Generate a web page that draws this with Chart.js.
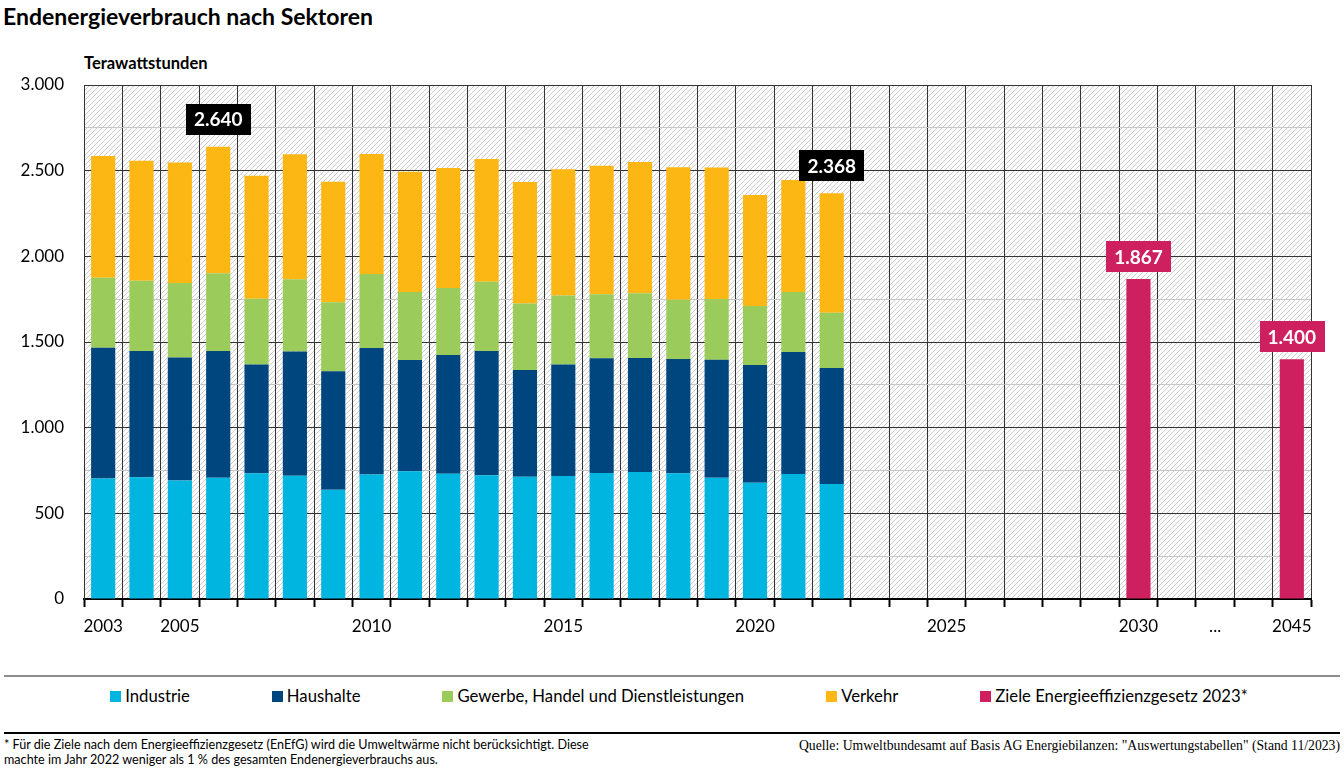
<!DOCTYPE html>
<html><head><meta charset="utf-8">
<script src="https://cdn.jsdelivr.net/npm/chart.js@4.4.1/dist/chart.umd.min.js"></script>
<style>
html,body{margin:0;padding:0;background:#fff;width:1344px;height:772px;overflow:hidden;font-family:Lato,sans-serif;color:#000;}
#title{position:absolute;left:3px;top:2px;font:bold 23px Lato;white-space:nowrap;}
#unit{position:absolute;left:84px;top:53px;font:bold 16.5px Lato;white-space:nowrap;}
#c{position:absolute;left:0;top:0;}
.sep1{position:absolute;left:4px;width:1336px;top:675px;height:2px;background:#8c8c8c;}
#legend{position:absolute;top:686px;left:14px;width:1330px;display:flex;justify-content:center;column-gap:82px;font:16.7px Lato;white-space:nowrap;}
.item{display:flex;align-items:center;}
.sw{width:11px;height:11px;margin-right:4px;display:inline-block;}
.sep2{position:absolute;left:4px;width:1336px;top:732px;height:2px;background:#000;}
#note{position:absolute;left:4px;top:737px;font:12.6px Lato;line-height:15px;white-space:nowrap;}
#src{position:absolute;right:4px;top:738px;font:13.7px "Liberation Serif";white-space:nowrap;}
</style>
</head><body>
<div id="title">Endenergieverbrauch nach Sektoren</div>
<div id="unit">Terawattstunden</div>
<canvas id="c" width="1344" height="660"></canvas>
<div class="sep1"></div>
<div id="legend"></div>
<div class="sep2"></div>
<div id="note">* Für die Ziele nach dem Energieeffizienzgesetz (EnEfG) wird die Umweltwärme nicht berücksichtigt. Diese<br>machte im Jahr 2022 weniger als 1 % des gesamten Endenergieverbrauchs aus.</div>
<div id="src">Quelle: Umweltbundesamt auf Basis AG Energiebilanzen: "Auswertungstabellen" (Stand 11/2023)</div>
<script>
// ---- data ----
const categories = ['2003','2004','2005','2006','2007','2008','2009','2010','2011','2012','2013','2014','2015','2016','2017','2018','2019','2020','2021','2022','2023','2024','2025','2026','2027','2028','2029','2030','','...',' ','2045'];
const shownTickLabels = ['2003','2005','2010','2015','2020','2025','2030','...','2045'];
const industrie = [704,710,691,708,734,720,638,726,745,731,722,714,718,735,741,734,708,679,730,671];
const haushalte = [763,738,718,740,634,724,691,739,650,693,726,623,650,670,666,667,689,687,712,677];
const ghd       = [408,410,436,453,385,422,403,432,397,391,404,387,403,373,377,346,354,344,350,323];
const verkehr   = [711,700,702,739,718,730,704,700,702,701,716,710,737,751,767,773,767,648,654,697];
const targetYears  = ['2030','2045'];
const targetValues = [1867,1400];
const highlightTotalYears = ['2006','2022'];
const yTickValues = [0,500,1000,1500,2000,2500,3000];

const COLORS = {ind:'#00B5DF', hh:'#00467E', ghd:'#9BCC5B', vk:'#FDB714', ziel:'#CE1F5E'};

function fill(arr){ return categories.map((c,i)=> i < arr.length ? arr[i] : null); }
const targetData = categories.map(c => { const k = targetYears.indexOf(c); return k >= 0 ? targetValues[k] : null; });
function fmt(n){ return String(n).replace(/\B(?=(\d{3})+(?!\d))/g,'.'); }

const bgHatch = {
  id:'bgHatch',
  beforeDraw(chart){
    const {ctx, chartArea:a} = chart;
    const s = 5;
    const t = document.createElement('canvas'); t.width = s; t.height = s;
    const c = t.getContext('2d');
    c.fillStyle = '#fdfdfd'; c.fillRect(0,0,s,s);
    c.strokeStyle = '#cdcdcd'; c.lineWidth = 1;
    c.beginPath();
    c.moveTo(0,s); c.lineTo(s,0);
    c.moveTo(-1,1); c.lineTo(1,-1);
    c.moveTo(s-1,s+1); c.lineTo(s+1,s-1);
    c.stroke();
    ctx.save();
    ctx.fillStyle = ctx.createPattern(t,'repeat');
    ctx.fillRect(a.left, a.top, a.right-a.left, a.bottom-a.top);
    ctx.restore();
  }
};

const valueBoxes = {
  id:'valueBoxes',
  afterDraw(chart, args, opts){
    const {ctx, scales:{x, y}} = chart;
    ctx.save();
    ctx.font = opts.font;
    opts.items.forEach(it => {
      const total = chart.data.datasets.reduce((s,d)=> s + (d.data[it.index] || 0), 0);
      const px = x.getPixelForValue(it.index);
      const py = y.getPixelForValue(total);
      const txt = fmt(total);
      const w = ctx.measureText(txt).width + 2*opts.padX;
      const h = opts.height;
      const bottom = py - it.gap;
      ctx.fillStyle = it.bg;
      ctx.fillRect(Math.round(px - w/2), Math.round(bottom - h), Math.round(w), h);
      ctx.fillStyle = '#fff'; ctx.textAlign = 'center'; ctx.textBaseline = 'middle';
      ctx.fillText(txt, px, bottom - h/2 + 1);
    });
    ctx.restore();
  }
};

const boxItems = [
  ...highlightTotalYears.map(yr => ({index: categories.indexOf(yr), bg:'#000', gap:12})),
  ...targetYears.map(yr => ({index: categories.indexOf(yr), bg:COLORS.ziel, gap:7}))
];

const chart = new Chart(document.getElementById('c'), {
  type:'bar',
  data:{
    labels: categories,
    datasets:[
      {label:'Industrie', data:fill(industrie), backgroundColor:COLORS.ind},
      {label:'Haushalte', data:fill(haushalte), backgroundColor:COLORS.hh},
      {label:'Gewerbe, Handel und Dienstleistungen', data:fill(ghd), backgroundColor:COLORS.ghd},
      {label:'Verkehr', data:fill(verkehr), backgroundColor:COLORS.vk},
      {label:'Ziele Energieeffizienzgesetz 2023*', data:targetData, backgroundColor:COLORS.ziel}
    ].map(d => Object.assign(d, {barPercentage:0.63, categoryPercentage:1, borderWidth:0}))
  },
  options:{
    responsive:false, animation:false, devicePixelRatio:1,
    layout:{padding:{left:0, right:33, top:85, bottom:21}},
    plugins:{
      legend:{display:false}, tooltip:{enabled:false},
      valueBoxes:{items:boxItems, font:'bold 19px Lato', padX:8, height:31}
    },
    scales:{
      x:{
        stacked:true,
        grid:{offset:true, color:'#333', lineWidth:1, tickLength:8, tickColor:'#000', tickWidth:2},
        border:{color:'#000', width:2},
        ticks:{autoSkip:false, maxRotation:0, minRotation:0, padding:9, color:'#000', font:{family:'Lato', size:17},
          callback(v){ const l = this.getLabelForValue(v); return shownTickLabels.includes(l) ? l : ''; }},
        afterFit(s){ s.height = 40; }
      },
      y:{
        stacked:true, min:0, max:3000,
        ticks:{stepSize:250, padding:20, color:'#000', font:{family:'Lato', size:17},
          callback(v){ return yTickValues.includes(v) ? fmt(v) : ''; }},
        grid:{drawTicks:false, lineWidth:1, color(ctx){ return ctx.tick && yTickValues.includes(ctx.tick.value) ? '#333' : '#c6c6c6'; }},
        border:{color:'#333', width:1},
        afterFit(s){ s.width = 84; }
      }
    }
  },
  plugins:[bgHatch, valueBoxes]
});

// legend from the chart's datasets
const lg = document.getElementById('legend');
chart.data.datasets.forEach(d => {
  const it = document.createElement('span'); it.className = 'item';
  const sw = document.createElement('span'); sw.className = 'sw'; sw.style.background = d.backgroundColor;
  it.appendChild(sw); it.appendChild(document.createTextNode(d.label));
  lg.appendChild(it);
});
</script>
</body></html>
